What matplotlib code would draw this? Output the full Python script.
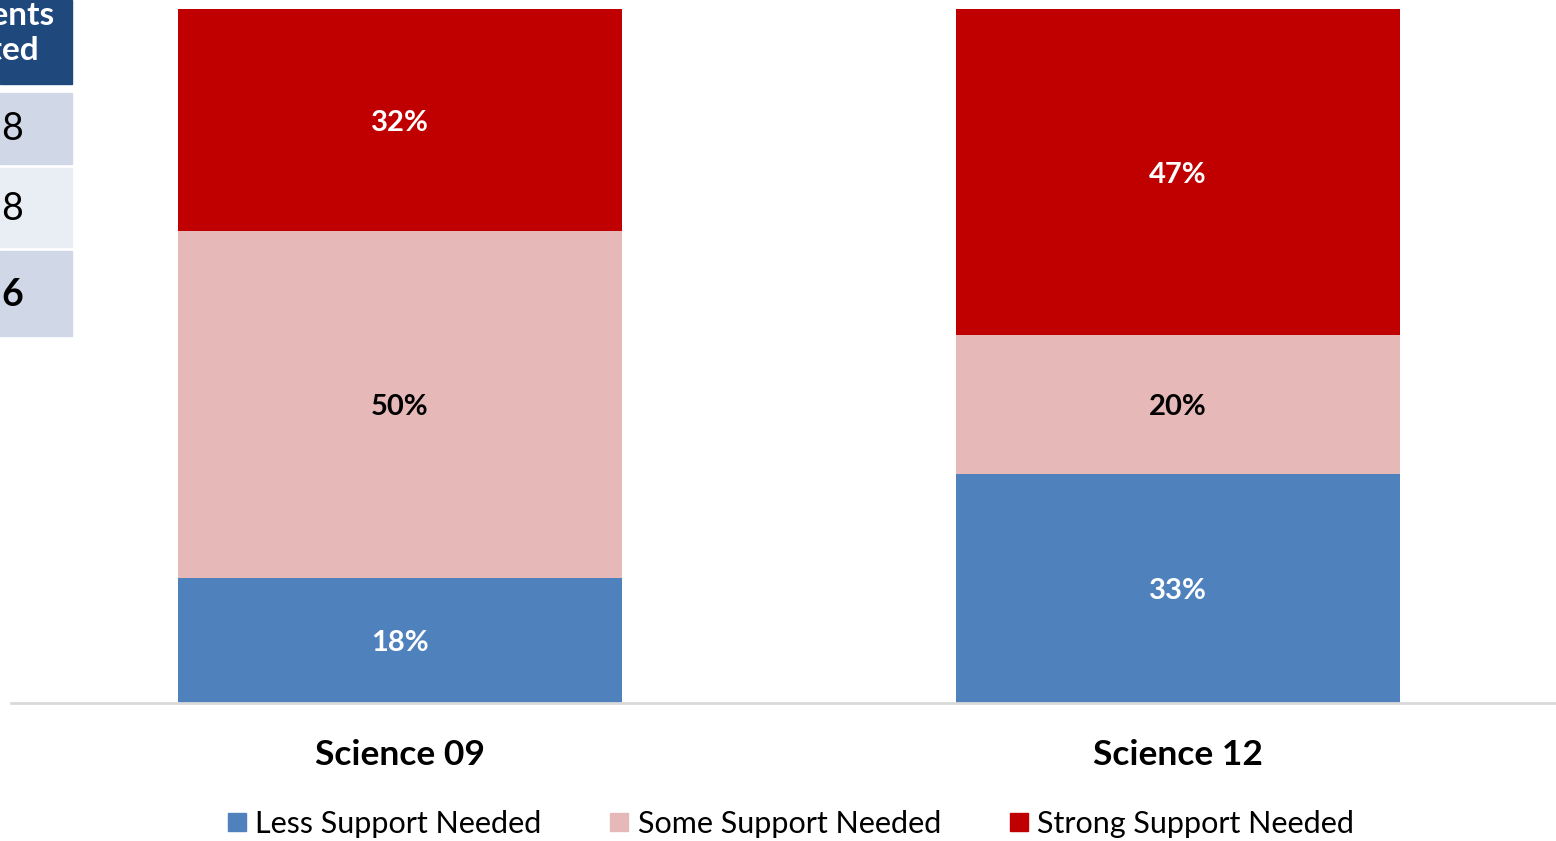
import matplotlib.pyplot as plt
from matplotlib.patches import Rectangle
from matplotlib.lines import Line2D
import numpy as np

plt.rcParams['font.family'] = ['Lato', 'DejaVu Sans']

categories = ["Science 09", "Science 12"]
series_names = ["Less Support Needed", "Some Support Needed", "Strong Support Needed"]
less_support = [18, 33]
some_support = [50, 20]
strong_support = [32, 47]
colors = ["#4F81BD", "#E6B9B8", "#C00000"]
label_colors = ["white", "black", "white"]

# partial table visible at the left edge of the slide
table_header = "Students\nTested"
table_values = ["8", "8", "6"]

W, H = 1556, 841
fig = plt.figure(figsize=(W / 100, H / 100), dpi=100)

# axes: baseline at y=703 px, top at y=9 px, left edge at x=11 px
ax = fig.add_axes([11 / W, (H - 703) / H, 1.0, (703 - 9) / H])

x = np.arange(len(categories))
width = 0.571
bottom = np.zeros(len(categories))
series = [less_support, some_support, strong_support]
for vals, name, col, lc in zip(series, series_names, colors, label_colors):
    vals = np.array(vals, dtype=float)
    ax.bar(x, vals, width, bottom=bottom, color=col, label=name, zorder=2)
    for xi, b, v in zip(x, bottom, vals):
        ax.text(xi, b + v / 2, f"{int(v)}%", ha='center', va='center_baseline',
                color=lc, fontsize=21, fontweight='bold')
    bottom += vals

ax.set_xlim(-0.5, 1.5)
ax.set_ylim(0, 100)
ax.set_yticks([])
ax.set_xticks(x)
ax.set_xticklabels(categories, fontsize=25.5, fontweight='bold')
ax.tick_params(axis='x', length=0, pad=26)
for s in ['top', 'right', 'left']:
    ax.spines[s].set_visible(False)
ax.spines['bottom'].set_color('#D9D9D9')
ax.spines['bottom'].set_linewidth(2)

handles = [Line2D([], [], marker='s', linestyle='none', markersize=13,
                  markerfacecolor=c, markeredgecolor=c) for c in colors]
fig.legend(handles, series_names, loc='center', bbox_to_anchor=(788 / W, 1 - 824 / H),
           ncol=3, frameon=False, fontsize=22, handletextpad=0.1,
           columnspacing=2.05, handlelength=1.0)

# table fragment
def px_rect(x0, y0, x1, y1, color):
    fig.patches.append(Rectangle((x0 / W, 1 - y1 / H), (x1 - x0) / W, (y1 - y0) / H,
                                 transform=fig.transFigure, color=color, zorder=0))

px_rect(0, 0, 72, 84, "#1F497D")
px_rect(0, 93, 72, 164, "#D0D8E8")
px_rect(0, 168, 72, 247, "#E9EDF4")
px_rect(0, 251, 72, 336, "#D0D8E8")

fig.text(-12 / W, 1 - 33 / H, table_header, ha='center', va='center', multialignment='center',
         color='white', fontsize=24, fontweight='bold', linespacing=1.25)
row_y = [129, 209, 295]
for v, yy, bold in zip(table_values, row_y, [False, False, True]):
    fig.text(1 / W, 1 - yy / H, v, ha='left', va='center', color='black',
             fontsize=27, fontweight='bold' if bold else 'normal')

fig.savefig("out.png", dpi=100)
